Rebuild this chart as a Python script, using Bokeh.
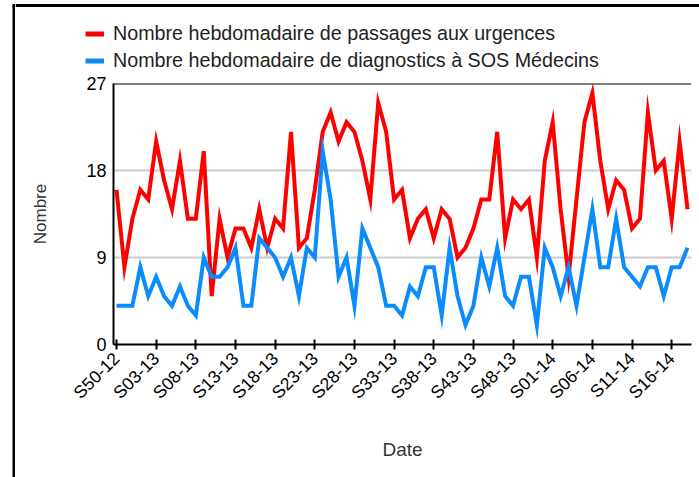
from bokeh.plotting import figure
from bokeh.models import FixedTicker, Span, Legend, LegendItem, Range1d
from bokeh.layouts import row, column
from bokeh.embed import file_html
from bokeh.resources import INLINE

# Weekly counts, S50-12 .. S18-14
urgences = [16, 8, 13, 16, 15, 21, 17, 14, 19, 13, 13, 20, 5, 13, 9, 12, 12, 10, 14, 10,
            13, 12, 22, 10, 11, 16, 22, 24, 21, 23, 22, 19, 15, 25, 22, 15, 16, 11, 13, 14,
            11, 14, 13, 9, 10, 12, 15, 15, 22, 11, 15, 14, 15, 9, 19, 23, 14, 7, 15, 23,
            26, 19, 14, 17, 16, 12, 13, 24, 18, 19, 13, 21, 14]
sos = [4, 4, 4, 8, 5, 7, 5, 4, 6, 4, 3, 9, 7, 7, 8, 10, 4, 4, 11, 10,
       9, 7, 9, 5, 10, 9, 20, 15, 7, 9, 4, 12, 10, 8, 4, 4, 3, 6, 5, 8,
       8, 3, 10, 5, 2, 4, 9, 6, 10, 5, 4, 7, 7, 2, 10, 8, 5, 8, 4, 9,
       14, 8, 8, 13, 8, 7, 6, 8, 8, 5, 8, 8, 10]
tick_labels = ["S50-12", "S03-13", "S08-13", "S13-13", "S18-13", "S23-13", "S28-13",
               "S33-13", "S38-13", "S43-13", "S48-13", "S01-14", "S06-14", "S11-14", "S16-14"]
y_ticks = [0, 9, 18, 27]
series_names = ["Nombre hebdomadaire de passages aux urgences",
                "Nombre hebdomadaire de diagnostics à SOS Médecins"]
RED = "#ff0000"
BLUE = "#0a8cff"
FONT = "Liberation Sans"

x = list(range(len(urgences)))
tick_pos = [5 * k for k in range(len(tick_labels))]

# ---------------- main chart ----------------
MW, MH = 684, 405
p = figure(width=MW, height=MH, output_backend="svg", toolbar_location=None,
           x_range=Range1d(-0.38, 72.5), y_range=Range1d(0, 27),
           min_border_left=98, min_border_right=8, min_border_top=11,
           min_border_bottom=MH - 11 - 261)
p.frame_align = False
p.outline_line_color = None

r1 = p.line(x, urgences, line_color=RED, line_width=4, line_join="miter")
r2 = p.line(x, sos, line_color=BLUE, line_width=4, line_join="miter")

p.add_layout(Span(location=27, dimension="width", line_color="black", line_width=2))

xa = p.xaxis[0]
xa.ticker = FixedTicker(ticks=tick_pos)
xa.major_label_overrides = {pos: lab for pos, lab in zip(tick_pos, tick_labels)}
xa.major_label_orientation = 0.785398
xa.major_label_text_font = FONT
xa.major_label_text_font_size = "17.5px"
xa.major_label_text_color = "black"
xa.major_tick_in = 5
xa.major_tick_out = 5
xa.minor_tick_line_color = None
xa.major_tick_line_color = "black"
xa.major_tick_line_width = 2
xa.axis_line_color = "black"
xa.axis_line_width = 2
xa.axis_label = "Date"
xa.axis_label_text_font = FONT
xa.axis_label_text_font_style = "normal"
xa.axis_label_text_font_size = "19px"
xa.axis_label_text_color = "#333333"
xa.axis_label_standoff = 26
xa.major_label_standoff = 6

ya = p.yaxis[0]
ya.ticker = FixedTicker(ticks=y_ticks)
ya.major_label_text_font = FONT
ya.major_label_text_font_size = "18px"
ya.major_label_text_color = "black"
ya.major_tick_in = 0
ya.major_tick_out = 0
ya.minor_tick_line_color = None
ya.axis_line_color = "black"
ya.axis_line_width = 2
ya.axis_label = "Nombre"
ya.axis_label_text_font = FONT
ya.axis_label_text_font_style = "normal"
ya.axis_label_text_font_size = "17px"
ya.axis_label_text_color = "#333333"
ya.axis_label_standoff = 33
ya.major_label_standoff = 7

p.xgrid.grid_line_color = None
p.ygrid.ticker = FixedTicker(ticks=[9, 18])
p.ygrid.grid_line_color = "#cccccc"
p.ygrid.grid_line_width = 2

# ---------------- legend strip (above chart) ----------------
LH = 72
lg = figure(width=MW, height=LH, output_backend="svg", toolbar_location=None,
            x_range=Range1d(0, MW), y_range=Range1d(LH, 0),
            x_axis_location=None, y_axis_location=None, min_border=0)
lg.frame_align = False
lg.outline_line_color = None
lg.grid.visible = False
# the legend's series are drawn on a hidden range so that only their keys show here
lg.extra_y_ranges = {"hidden": Range1d(1000, 2000)}
lr1 = lg.line(x, urgences, line_color=RED, line_width=5, y_range_name="hidden")
lr2 = lg.line(x, sos, line_color=BLUE, line_width=5, y_range_name="hidden")
lg.add_layout(Span(location=5, dimension="width", line_color="black", line_width=3))
legend = Legend(items=[LegendItem(label=series_names[0], renderers=[lr1]),
                       LegendItem(label=series_names[1], renderers=[lr2])],
                location=(70, 0.5), orientation="vertical")
legend.background_fill_alpha = 0
legend.border_line_color = None
legend.padding = 0
legend.margin = 0
legend.spacing = 4
legend.glyph_width = 19
legend.glyph_height = 23
legend.label_height = 23
legend.label_standoff = 9
legend.label_text_font = FONT
legend.label_text_font_size = "19.7px"
legend.label_text_color = "#222222"
lg.add_layout(legend)

# ---------------- left border strip ----------------
SW = 15
st = figure(width=SW, height=LH + MH, output_backend="svg", toolbar_location=None,
            x_range=Range1d(0, SW), y_range=Range1d(LH + MH, 0),
            x_axis_location=None, y_axis_location=None, min_border=0)
st.frame_align = False
st.outline_line_color = None
st.grid.visible = False
st.segment(x0=[13.5, 12], y0=[5, 5], x1=[13.5, SW], y1=[LH + MH, 5],
           line_color="black", line_width=3)

layout = row(st, column(lg, p))
open("out.html", "w").write(file_html(layout, INLINE))
